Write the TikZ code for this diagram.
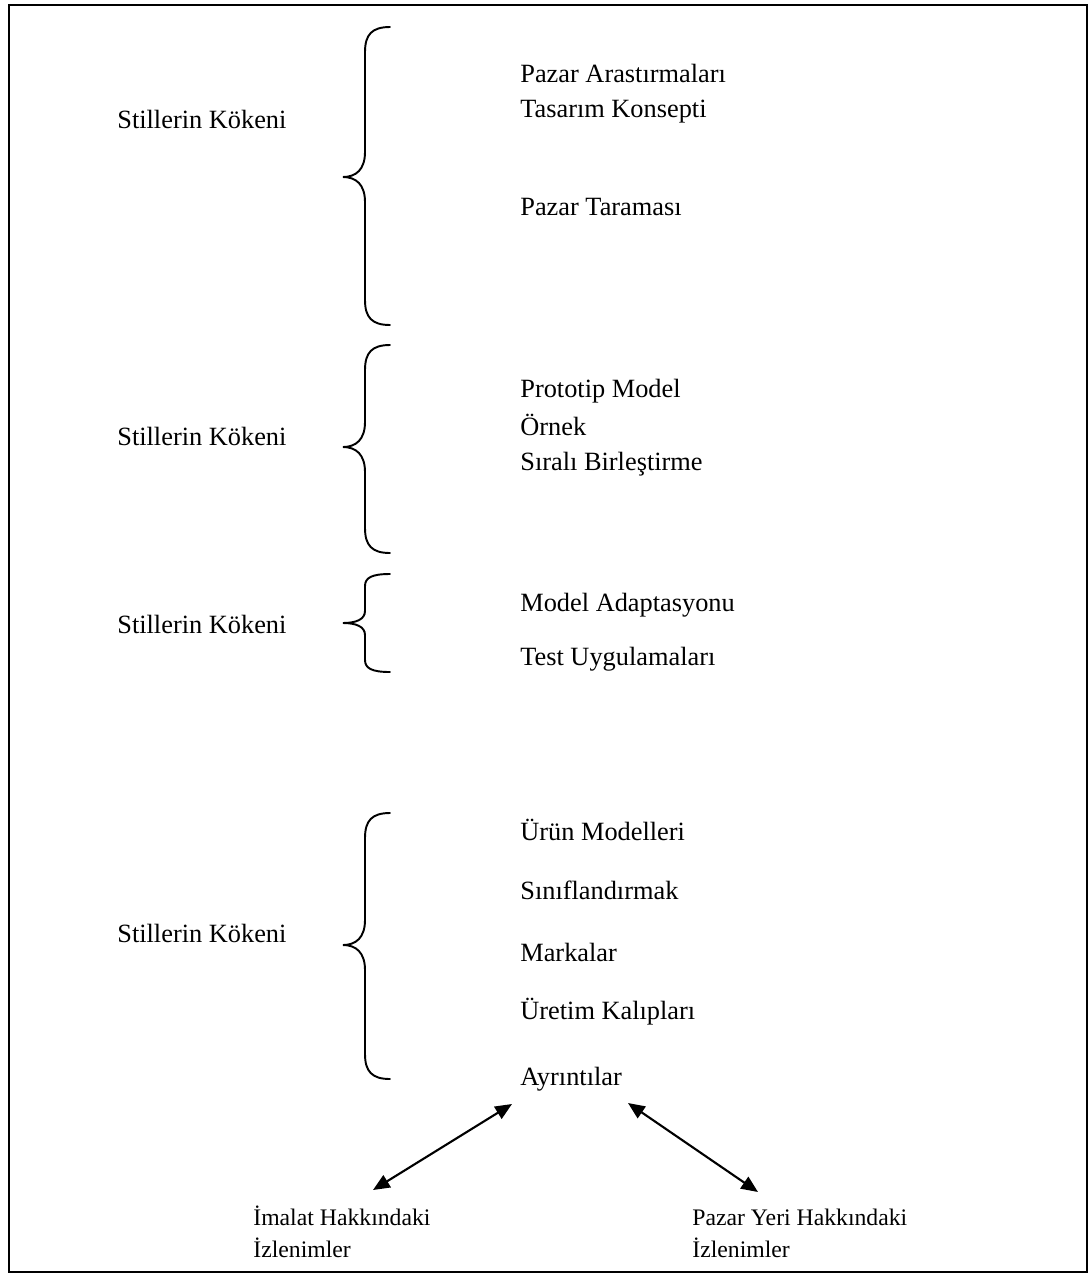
\documentclass[tikz,border=0pt]{standalone}
\usepackage{fontspec}
\setmainfont{Liberation Serif}
\usetikzlibrary{arrows.meta}

% Curly brace opening to the right: top y, tip y, bottom y, corner radius
\newcommand{\drawbrace}[4]{%
  \draw[bracestroke] (390,#1) .. controls (372,#1) and (365,{#1+0.3*#4}) .. (365,{#1+#4})
    -- (365,{#2-#4}) .. controls (365,{#2-0.3*#4}) and (356,#2) .. (343,#2)
    .. controls (356,#2) and (365,{#2+0.3*#4}) .. (365,{#2+#4})
    -- (365,{#3-#4}) .. controls (365,{#3-0.3*#4}) and (372,#3) .. (390,#3);}

\begin{document}
\begin{tikzpicture}[x=0.02cm,y=-0.02cm,
  item/.style={anchor=base west, inner sep=0pt, font=\fontsize{15}{18}\selectfont},
  origin/.style={item},
  note/.style={anchor=base west, inner sep=0pt, font=\fontsize{13.5}{16}\selectfont},
  bracestroke/.style={line width=1.1pt, line cap=round},
  link/.style={line width=1.2pt, {Triangle[length=9.5pt,width=8pt]}-{Triangle[length=9.5pt,width=8pt]}},
  frame/.style={line width=0.9pt}]

\useasboundingbox (0,0) rectangle (1092,1275);
\draw[frame] (9,5) rectangle (1087,1272);

% Group 1
\node[origin] (o1) at (117,128) {Stillerin Kökeni};
\drawbrace{27}{177}{325}{25}
\node[item] (g1a) at (520,82) {Pazar Arastırmaları};
\node[item] (g1b) at (520,117) {Tasarım Konsepti};
\node[item] (g1c) at (520,215) {Pazar Taraması};

% Group 2
\node[origin] (o2) at (117,445) {Stillerin Kökeni};
\drawbrace{345}{447}{553}{25}
\node[item] (g2a) at (520,397) {Prototip Model};
\node[item] (g2b) at (520,435) {Örnek};
\node[item] (g2c) at (520,470) {Sıralı Birleştirme};

% Group 3
\node[origin] (o3) at (117,633) {Stillerin Kökeni};
\drawbrace{574}{623}{672}{12}
\node[item] (g3a) at (520,611) {Model Adaptasyonu};
\node[item] (g3b) at (520,665) {Test Uygulamaları};

% Group 4
\node[origin] (o4) at (117,942) {Stillerin Kökeni};
\drawbrace{813}{945}{1079}{25}
\node[item] (g4a) at (520,840) {Ürün Modelleri};
\node[item] (g4b) at (520,899) {Sınıflandırmak};
\node[item] (g4c) at (520,961) {Markalar};
\node[item] (g4d) at (520,1019) {Üretim Kalıpları};
\node[item] (g4e) at (520,1085) {Ayrıntılar};

% Impressions feeding back into the details
\node[note] (m1) at (253,1225) {İmalat Hakkındaki};
\node[note] (m2) at (253,1257) {İzlenimler};
\node[note] (p1) at (692,1225) {Pazar Yeri Hakkındaki};
\node[note] (p2) at (692,1257) {İzlenimler};

\coordinate (mtip) at (373,1190);
\coordinate (dl) at (512,1104);
\coordinate (dr) at (628,1103);
\coordinate (ptip) at (758,1192);
\draw[link] (mtip) -- (dl);
\draw[link] (dr) -- (ptip);
\end{tikzpicture}
\end{document}
